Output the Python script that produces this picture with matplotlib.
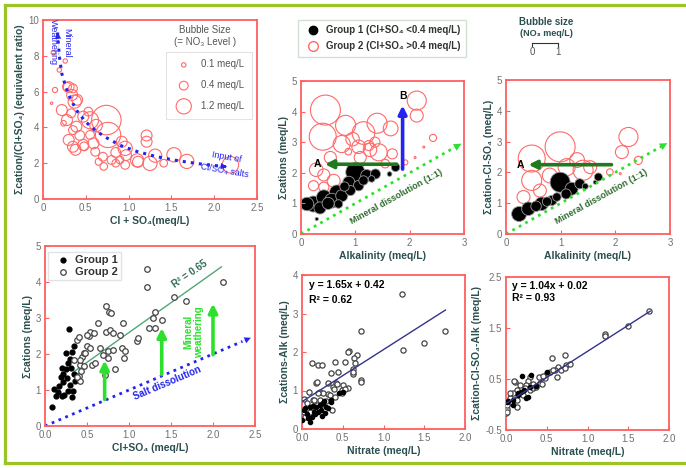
import matplotlib
matplotlib.use('Agg')
import matplotlib.pyplot as plt
from matplotlib.lines import Line2D

plt.rcParams['font.family'] = ['Liberation Sans', 'DejaVu Sans']

# ---------------- data ----------------
# panel 1: ratio vs Cl+SO4, bubble = NO3
p1_x = [0.10, 0.14, 0.12, 0.26, 0.19, 0.28, 0.35, 0.30, 0.34, 0.40, 0.37, 0.22, 0.28, 0.24, 0.33,
        0.39, 0.35, 0.47, 0.53, 0.55, 0.74, 0.76, 0.30, 0.35, 0.47, 0.59, 0.55, 0.61, 0.65, 0.70,
        0.80, 0.90, 0.96, 0.92, 1.21, 1.21, 1.11, 1.25, 1.31, 1.41, 1.53, 1.68, 2.19, 0.85, 0.96,
        1.10, 0.48, 0.38, 0.71, 0.43, 0.62, 0.85, 0.97]
p1_y = [5.35, 6.09, 8.18, 7.71, 7.21, 6.27, 6.18, 6.25, 5.81, 5.54, 5.44, 4.97, 4.41, 4.23, 4.79,
        4.04, 3.85, 4.60, 4.88, 4.40, 4.41, 3.58, 3.30, 2.92, 3.02, 3.11, 3.58, 2.64, 2.08, 2.36,
        2.18, 2.18, 2.83, 3.20, 3.55, 3.20, 2.08, 1.99, 2.42, 2.00, 2.47, 2.10, 1.91, 2.00, 1.91,
        2.16, 2.94, 2.75, 1.82, 3.55, 4.10, 2.60, 2.45]
p1_no3 = [0.03, 0.14, 0.10, 0.10, 0.10, 0.40, 0.40, 0.60, 0.62, 0.60, 0.90, 0.62, 0.62, 0.16, 0.40,
          0.62, 0.40, 0.62, 0.40, 1.50, 4.50, 3.30, 0.62, 0.62, 0.62, 0.62, 0.40, 0.40, 0.25, 0.40,
          0.40, 0.30, 1.05, 0.62, 0.62, 0.62, 0.62, 1.05, 0.90, 0.30, 1.05, 1.05, 1.40, 0.30, 0.40,
          0.90, 0.40, 0.62, 0.30, 0.50, 0.80, 0.50, 0.60]
p1_curve_x = [0.17, 0.19, 0.22, 0.27, 0.33, 0.40, 0.50, 0.62, 0.75, 0.90, 1.10, 1.30, 1.50, 1.70, 1.90, 2.15]
p1_curve_y = [9.3, 8.0, 7.0, 6.2, 5.5, 4.9, 4.3, 3.8, 3.4, 3.0, 2.65, 2.4, 2.2, 2.05, 1.92, 1.8]
p1_legend_no3 = [0.1, 0.4, 1.2]

# panel 2: sum cations vs alkalinity
p2_g2_x = [0.45, 0.40, 0.82, 1.15, 1.40, 1.65, 1.25, 0.87, 0.75, 1.43, 1.68, 2.13, 2.13, 2.43, 2.26,
           2.10, 1.92, 0.42, 0.23, 0.42, 0.60, 1.09, 0.54, 1.06, 1.27, 0.28, 0.95, 1.55, 1.36]
p2_g2_y = [4.05, 3.18, 3.55, 3.30, 3.62, 3.45, 2.89, 2.69, 2.94, 2.67, 2.62, 4.36, 3.87, 3.14, 2.84,
           2.50, 2.34, 1.93, 1.58, 1.53, 1.74, 2.50, 2.50, 2.85, 2.75, 2.10, 3.10, 2.30, 3.00]
p2_g2_no3 = [1.23, 1.00, 0.55, 0.70, 0.55, 0.30, 0.14, 0.06, 0.40, 0.40, 0.14, 0.50, 0.23, 0.07, 0.005,
             0.005, 0.035, 0.20, 0.14, 0.14, 0.23, 0.20, 0.20, 0.25, 0.25, 0.25, 0.25, 0.10, 0.14]
p2_g1_x = [0.23, 0.11, 0.42, 0.66, 1.00, 1.21, 1.37, 0.88, 1.06, 1.74, 1.63, 0.29, 0.57, 0.75, 0.91,
           0.69, 0.35, 0.50, 1.15, 0.80, 1.30]
p2_g1_y = [0.98, 0.98, 1.20, 1.36, 2.02, 1.91, 1.96, 1.69, 1.58, 2.18, 1.96, 0.49, 1.09, 1.25, 1.42,
           0.98, 0.85, 1.00, 1.75, 1.55, 1.80]
p2_g1_no3 = [0.35, 0.25, 0.30, 0.30, 0.50, 0.20, 0.14, 0.20, 0.15, 0.10, 0.03, 0.015, 0.30, 0.20, 0.14,
             0.10, 0.20, 0.20, 0.12, 0.12, 0.06]

# panel 3: sum cations - Cl - SO4 vs alkalinity
p3_g2_x = [0.47, 0.99, 1.41, 2.24, 2.12, 2.42, 1.90, 2.09, 0.47, 0.32, 1.11, 1.54, 0.62, 1.30, 0.80]
p3_g2_y = [2.45, 2.83, 2.07, 3.15, 2.66, 2.39, 2.01, 1.96, 1.74, 1.20, 2.17, 2.17, 1.41, 2.40, 1.90]
p3_g2_no3 = [1.00, 1.23, 0.55, 0.50, 0.23, 0.09, 0.06, 0.005, 0.55, 0.23, 0.40, 0.23, 0.23, 0.30, 0.30]
p3_g1_x = [0.24, 0.41, 0.65, 0.99, 1.20, 1.35, 1.69, 0.84, 0.93, 1.10, 1.63, 0.55, 0.75, 1.45]
p3_g1_y = [0.65, 0.82, 0.98, 1.68, 1.47, 1.63, 1.85, 1.09, 1.20, 1.30, 1.68, 0.90, 1.05, 1.55]
p3_g1_no3 = [0.31, 0.25, 0.25, 0.55, 0.23, 0.14, 0.09, 0.14, 0.10, 0.14, 0.02, 0.15, 0.12, 0.05]

# panel 4: sum cations vs Cl+SO4
p4_g1_x = [0.08, 0.11, 0.13, 0.20, 0.17, 0.22, 0.20, 0.25, 0.25, 0.30, 0.32, 0.35, 0.29, 0.26, 0.30,
           0.33, 0.32, 0.27, 0.34, 0.27, 0.16, 0.22, 0.19, 0.23, 0.38, 0.31, 0.36]
p4_g1_y = [0.52, 1.02, 0.84, 0.84, 1.12, 1.22, 1.60, 1.57, 2.03, 1.87, 2.05, 2.21, 2.69, 1.33, 1.13,
           0.98, 0.80, 0.97, 1.45, 1.74, 0.95, 1.45, 1.35, 0.85, 1.38, 1.60, 1.25]
p4_g2_x = [0.34, 0.38, 0.40, 0.42, 0.44, 0.46, 0.42, 0.47, 0.50, 0.52, 0.54, 0.50, 0.56, 0.60, 0.63,
           0.65, 0.69, 0.71, 0.73, 0.73, 0.75, 0.76, 0.79, 0.77, 0.81, 0.75, 0.83, 0.81, 0.89, 0.93,
           0.92, 0.94, 0.95, 1.09, 1.11, 1.22, 1.21, 1.24, 1.29, 1.31, 1.31, 1.39, 1.53, 1.68, 2.12,
           0.41, 0.53, 0.58, 0.43, 0.38, 0.42, 0.48]
p4_g2_y = [1.84, 2.39, 1.38, 1.70, 1.93, 1.66, 1.24, 2.03, 2.21, 2.49, 2.62, 2.53, 1.70, 1.75, 2.85,
           2.16, 1.98, 1.43, 3.33, 2.62, 2.07, 3.18, 3.13, 2.67, 2.58, 1.89, 1.57, 2.12, 2.53, 2.85,
           2.16, 1.89, 2.07, 2.35, 2.44, 4.37, 3.87, 2.72, 2.99, 3.18, 2.72, 2.95, 3.59, 3.48, 4.00,
           2.48, 2.16, 2.57, 1.52, 1.37, 1.83, 2.02]
p4_fit_x = [0.35, 2.10]
p4_fit_y = [1.52, 4.42]

# panel 5: sum cations - Alk vs nitrate
p5_g2_x = [1.23, 1.75, 1.50, 1.24, 0.73, 0.58, 0.56, 0.67, 0.64, 0.65, 0.63, 0.62, 0.73, 0.73, 0.12,
           0.20, 0.24, 0.40, 0.53, 0.35, 0.44, 0.62, 0.17, 0.19, 0.32, 0.42, 0.50, 0.38, 0.49, 0.49,
           0.39, 0.32, 0.43, 0.08, 0.22, 0.26, 0.20, 0.34, 0.22, 0.14, 0.02, 0.06, 0.12, 0.18, 0.02,
           0.04, 0.24, 0.30, 0.41, 0.37, 0.10, 0.15, 0.57, 0.53]
p5_g2_y = [3.50, 2.54, 2.24, 2.04, 2.55, 2.03, 1.99, 1.92, 1.85, 1.71, 1.55, 1.42, 1.27, 1.23, 1.72,
           1.66, 1.66, 1.75, 1.73, 1.45, 1.49, 1.49, 1.19, 1.22, 1.19, 1.19, 1.14, 1.09, 1.01, 0.93,
           1.03, 0.91, 1.16, 0.97, 0.97, 0.93, 0.93, 0.88, 0.75, 0.75, 0.78, 0.67, 0.58, 0.62, 0.45,
           0.32, 0.66, 0.73, 0.82, 0.49, 0.45, 0.76, 1.07, 1.03]
p5_g1_x = [0.00, 0.07, 0.10, 0.12, 0.17, 0.22, 0.27, 0.30, 0.35, 0.36, 0.28, 0.10, 0.04, 0.15, 0.23,
           0.50, 0.16, 0.26, 0.32, 0.14, 0.45, 0.02, 0.06, 0.25, 0.20]
p5_g1_y = [0.23, 0.28, 0.19, 0.32, 0.58, 0.62, 0.74, 0.58, 0.70, 0.75, 0.41, 0.58, 0.55, 0.45, 0.50,
           0.97, 0.39, 0.67, 0.54, 0.61, 0.93, 0.50, 0.40, 0.35, 0.45]
p5_fit_x = [0.0, 1.76]
p5_fit_y = [0.71, 3.09]

# panel 6: sum cations - Cl - SO4 - Alk vs nitrate
p6_g2_x = [1.76, 1.50, 1.22, 1.22, 0.73, 0.56, 0.74, 0.64, 0.68, 0.60, 0.62, 0.54, 0.50, 0.48, 0.40,
           0.42, 0.33, 0.29, 0.27, 0.25, 0.19, 0.17, 0.11, 0.13, 0.09, 0.05, 0.07, 0.13, 0.01, 0.00,
           0.01, 0.21, 0.29, 0.33, 0.44, 0.78, 0.72, 0.58, 0.46, 0.37, 0.10, 0.23, 0.05, 0.01, 0.13]
p6_g2_y = [1.83, 1.53, 1.39, 1.34, 0.97, 0.92, 0.77, 0.74, 0.67, 0.67, 0.54, 0.64, 0.61, 0.51, 0.54,
           0.43, 0.41, 0.54, 0.46, 0.38, 0.31, 0.38, 0.44, 0.28, 0.22, 0.12, 0.02, 0.09, -0.08, -0.16,
           0.00, 0.18, 0.28, 0.33, 0.40, 0.80, 0.71, 0.67, 0.56, 0.35, 0.47, 0.32, 0.22, -0.14, -0.04]
p6_g1_x = [0.20, 0.27, 0.09, 0.03, 0.15, 0.50, 0.31, 0.22, 0.29, 0.01, 0.09, 0.15, 0.37, 0.25, 0.18]
p6_g1_y = [0.56, 0.15, 0.09, 0.06, 0.22, 0.64, 0.58, 0.28, 0.35, 0.05, -0.01, 0.18, 0.37, 0.12, 0.25]
p6_fit_x = [0.0, 1.77]
p6_fit_y = [0.02, 1.83]

# ---------------- style ----------------
RED = '#ff5f5f'
LABEL = '#2b4f4f'
TICK = '#707070'
BLUE = '#2424ee'
DKGREEN = '#1f7a1f'
LTGREEN = '#2ee02e'
NAVY = '#33338a'

W, H = 686, 468


def box(l, t, r, b):
    return [l / W, 1 - b / H, (r - l) / W, (b - t) / H]


def style(ax, xlim, ylim, xticks, xlabels, yticks, ylabels, xlabel, ylabel):
    ax.set_xlim(xlim)
    ax.set_ylim(ylim)
    ax.set_xticks(xticks)
    ax.set_xticklabels(xlabels)
    ax.set_yticks(yticks)
    ax.set_yticklabels(ylabels)
    for s in ax.spines.values():
        s.set_color(RED)
        s.set_linewidth(1.3)
    ax.tick_params(direction='in', color=RED, labelcolor=TICK, labelsize=7, length=3, pad=3)
    ax.set_xlabel(xlabel, fontsize=7.5, fontweight='bold', color=LABEL, labelpad=2)
    ax.set_ylabel(ylabel, fontsize=7.5, fontweight='bold', color=LABEL, labelpad=2)


def arrow(ax, tail, tip, color, lw=2.5, ms=12):
    ax.annotate('', xy=tip, xytext=tail,
                arrowprops=dict(arrowstyle='-|>', color=color, lw=lw, mutation_scale=ms,
                                shrinkA=0, shrinkB=0))


fig = plt.figure(figsize=(6.86, 4.68), dpi=100)

# outer frame
for xs, ys in [([0.0073, 0.0073], [0.011, 0.989]), ([0.0073, 1.0], [0.989, 0.989]),
               ([0.0073, 1.0], [0.011, 0.011])]:
    fig.add_artist(Line2D(xs, ys, color='#9dc425', lw=2.3))

# ---------- panel 1 ----------
k1 = 100.0
ax1 = fig.add_axes(box(43, 20, 257, 199))
style(ax1, (0, 2.5), (0, 10), [0, 0.5, 1, 1.5, 2, 2.5], ['0', '0.5', '1.0', '1.5', '2.0', '2.5'],
      [0, 2, 4, 6, 8, 10], ['0', '2', '4', '6', '8', '10'],
      'Cl + SO\u2084(meq/L)', '\u03a3cation/(Cl+SO\u2084) (equivalent ratio)')
ax1.scatter(p1_x, p1_y, s=[k1 * v for v in p1_no3], facecolors='none', edgecolors='#ff6a6a', linewidths=0.8)
ax1.plot(p1_curve_x, p1_curve_y, ':', color=BLUE, lw=2.2)
arrow(ax1, (p1_curve_x[-2], p1_curve_y[-2]), (p1_curve_x[-1], p1_curve_y[-1]), BLUE, lw=0.1, ms=11)
arrow(ax1, (p1_curve_x[1], p1_curve_y[1]), (p1_curve_x[0], p1_curve_y[0]), BLUE, lw=0.1, ms=11)
ax1.text(0.2, 8.75, 'Mineral\nWeathering', rotation=-90, color=BLUE, fontsize=6.5,
         ha='center', va='center', linespacing=1.6)
ax1.text(2.13, 1.95, 'Input of\nCl/SO\u2084 salts', rotation=-10, color=BLUE, fontsize=6.5,
         ha='center', va='center', linespacing=1.6)
h1 = [ax1.scatter([], [], s=k1 * v, facecolors='none', edgecolors='#ff6a6a', linewidths=0.8)
      for v in p1_legend_no3]
lg1 = ax1.legend(h1, ['%.1f meq/L' % v for v in p1_legend_no3], loc='upper right',
                 bbox_to_anchor=(1.0, 0.85), fontsize=7, labelspacing=1.1, borderpad=0.8,
                 handletextpad=0.8, frameon=True, fancybox=False, labelcolor='#555555')
lg1.get_frame().set_edgecolor('#dddddd')
lg1.get_frame().set_linewidth(0.8)
fig.text(205 / W, 1 - 30 / H, 'Bubble Size', fontsize=7, color='#555555', ha='center', va='center')
fig.text(205 / W, 1 - 42 / H, '(= NO\u2083 Level )', fontsize=7, color='#555555', ha='center', va='center')

# ---------- panels 2 and 3 ----------
k2 = 378.0
ax2 = fig.add_axes(box(301, 81, 464, 234))
style(ax2, (0, 3), (0, 5), [0, 1, 2, 3], ['0', '1', '2', '3'], [0, 1, 2, 3, 4, 5],
      ['0', '1', '2', '3', '4', '5'], 'Alkalinity (meq/L)', '\u03a3cations (meq/L)')
ax2.scatter(p2_g2_x, p2_g2_y, s=[k2 * v for v in p2_g2_no3], facecolors='none', edgecolors='#ff6a6a', linewidths=0.8)
ax2.scatter(p2_g1_x, p2_g1_y, s=[k2 * v for v in p2_g1_no3], facecolors='black', edgecolors='#999999', linewidths=0.6)

ax3 = fig.add_axes(box(506, 80, 670, 234))
style(ax3, (0, 3), (0, 5), [0, 1, 2, 3], ['0', '1', '2', '3'], [0, 1, 2, 3, 4, 5],
      ['0', '1', '2', '3', '4', '5'], 'Alkalinity (meq/L)', '\u03a3cation-Cl-SO\u2084 (meq/L)')
ax3.scatter(p3_g2_x, p3_g2_y, s=[k2 * v for v in p3_g2_no3], facecolors='none', edgecolors='#ff6a6a', linewidths=0.8)
ax3.scatter(p3_g1_x, p3_g1_y, s=[k2 * v for v in p3_g1_no3], facecolors='black', edgecolors='#999999', linewidths=0.6)

for ax, a_tail, a_tip, a_lbl in [(ax2, (1.76, 2.28), (0.44, 2.28), (0.31, 2.28)),
                                 (ax3, (1.93, 2.25), (0.41, 2.25), (0.26, 2.25))]:
    ax.plot([0, 2.9], [0, 2.9], ':', color=LTGREEN, lw=2)
    arrow(ax, (2.8, 2.8), (2.95, 2.95), LTGREEN, lw=0.1, ms=13)
    ax.text(1.75, 1.22, 'Mineral dissolution (1:1)', rotation=29, color='#2d6b2d', fontsize=6.5,
            fontweight='bold', ha='center', va='center')
    arrow(ax, a_tail, a_tip, DKGREEN, lw=2.6, ms=12)
    ax.text(a_lbl[0], a_lbl[1], 'A', fontsize=7.5, fontweight='bold', ha='center', va='center')

arrow(ax2, (1.87, 2.12), (1.87, 4.2), BLUE, lw=2.6, ms=12)
ax2.text(1.87, 4.5, 'B', fontsize=7.5, fontweight='bold', ha='center', va='center')

g1h = Line2D([], [], marker='o', ls='none', color='black', markersize=6)
g2h = Line2D([], [], marker='o', ls='none', markerfacecolor='none', markeredgecolor='#ff6a6a', markersize=7)
lg2 = fig.legend([g1h, g2h], ['Group 1 (Cl+SO\u2084 <0.4 meq/L)', 'Group 2 (Cl+SO\u2084 >0.4 meq/L)'],
                 loc='center', bbox_to_anchor=(0.557, 0.918), fontsize=7, frameon=True, fancybox=False,
                 handletextpad=0.3, labelspacing=0.6, borderpad=0.6, prop={'weight': 'bold', 'size': 7})
lg2.get_frame().set_edgecolor('#c8d8c8')
for t in lg2.get_texts():
    t.set_color('#333333')

# bubble size scale
fig.text(546 / W, 1 - 22 / H, 'Bubble size', fontsize=7, fontweight='bold', color=LABEL, ha='center', va='center')
fig.text(546 / W, 1 - 34 / H, '(NO\u2083 meq/L)', fontsize=6.5, fontweight='bold', color=LABEL, ha='center', va='center')
fig.add_artist(Line2D([532 / W, 558 / W], [1 - 43 / H, 1 - 43 / H], color='#333333', lw=0.8))
for xp in [532, 558]:
    fig.add_artist(Line2D([xp / W, xp / W], [1 - 43 / H, 1 - 46 / H], color='#333333', lw=0.8))
fig.text(532 / W, 1 - 52 / H, '0', fontsize=7, color='#555555', ha='center', va='center')
fig.text(558 / W, 1 - 52 / H, '1', fontsize=7, color='#555555', ha='center', va='center')

# ---------- panel 4 ----------
ax4 = fig.add_axes(box(45, 246, 255, 426))
style(ax4, (0, 2.5), (0, 5), [0, 0.5, 1, 1.5, 2, 2.5], ['0.0', '0.5', '1.0', '1.5', '2.0', '2.5'],
      [0, 1, 2, 3, 4, 5], ['0', '1', '2', '3', '4', '5'], 'Cl+SO\u2084 (meq/L)', '\u03a3cations (meq/L)')
ax4.scatter(p4_g1_x, p4_g1_y, s=12, color='black', zorder=3, label='Group 1')
ax4.scatter(p4_g2_x, p4_g2_y, s=16, facecolors='white', edgecolors='#444444', linewidths=0.9, zorder=3, label='Group 2')
ax4.plot(p4_fit_x, p4_fit_y, color='#4fa877', lw=1)
ax4.text(1.72, 4.22, 'R\u00b2 = 0.65', rotation=35, color='#2e6b55', fontsize=7, fontweight='bold',
         ha='center', va='center')
ax4.plot([0, 2.35], [0, 2.35], ':', color=BLUE, lw=2)
arrow(ax4, (2.3, 2.3), (2.45, 2.45), BLUE, lw=0.1, ms=11)
ax4.text(1.45, 1.2, 'Salt dissolution', rotation=23, color=BLUE, fontsize=7, fontweight='bold',
         ha='center', va='center')
for ax_x, y0, y1 in [(0.71, 0.74, 1.82), (1.39, 1.43, 2.72), (2.0, 1.98, 3.4)]:
    arrow(ax4, (ax_x, y0), (ax_x, y1), LTGREEN, lw=2.6, ms=13)
ax4.text(1.77, 2.62, 'Mineral\nweathering', rotation=90, color=LTGREEN, fontsize=7, fontweight='bold',
         ha='center', va='center')
lg4 = ax4.legend(loc='upper left', bbox_to_anchor=(0.0, 0.985), fontsize=8, frameon=True, fancybox=False,
                 handletextpad=0.1, borderpad=0.3, labelspacing=0.15, borderaxespad=0.3,
                 prop={'weight': 'bold', 'size': 8})
lg4.get_frame().set_edgecolor('#dddddd')
for t in lg4.get_texts():
    t.set_color('#333333')

# ---------- panel 5 ----------
ax5 = fig.add_axes(box(302, 275, 465, 429))
style(ax5, (0, 2), (0, 4), [0, 0.5, 1, 1.5, 2], ['0.0', '0.5', '1.0', '1.5', '2.0'],
      [0, 1, 2, 3, 4], ['0', '1', '2', '3', '4'], 'Nitrate (meq/L)', '\u03a3cations-Alk (meq/L)')
ax5.scatter(p5_g2_x, p5_g2_y, s=14, facecolors='white', edgecolors='#444444', linewidths=0.9, zorder=3)
ax5.scatter(p5_g1_x, p5_g1_y, s=9, color='black', zorder=3)
ax5.plot(p5_fit_x, p5_fit_y, color=NAVY, lw=1, zorder=4)
ax5.text(0.045, 0.935, 'y = 1.65x + 0.42', transform=ax5.transAxes, fontsize=7.5, fontweight='bold', va='center')
ax5.text(0.045, 0.838, 'R\u00b2 = 0.62', transform=ax5.transAxes, fontsize=7.5, fontweight='bold', va='center')

# ---------- panel 6 ----------
ax6 = fig.add_axes(box(506, 277, 669, 430))
style(ax6, (0, 2), (-0.5, 2.5), [0, 0.5, 1, 1.5, 2], ['0.0', '0.5', '1.0', '1.5', '2.0'],
      [-0.5, 0.5, 1.5, 2.5], ['-0.5', '0.5', '1.5', '2.5'], 'Nitrate (meq/L)',
      '\u03a3cation-Cl-SO\u2084-Alk (meq/L)')
ax6.scatter(p6_g2_x, p6_g2_y, s=14, facecolors='white', edgecolors='#444444', linewidths=0.9, zorder=3)
ax6.scatter(p6_g1_x, p6_g1_y, s=9, color='black', zorder=3)
ax6.plot(p6_fit_x, p6_fit_y, color=NAVY, lw=1, zorder=4)
ax6.text(0.035, 0.94, 'y = 1.04x + 0.02', transform=ax6.transAxes, fontsize=7.5, fontweight='bold', va='center')
ax6.text(0.035, 0.86, 'R\u00b2 = 0.93', transform=ax6.transAxes, fontsize=7.5, fontweight='bold', va='center')

fig.savefig('out.png', dpi=100)
